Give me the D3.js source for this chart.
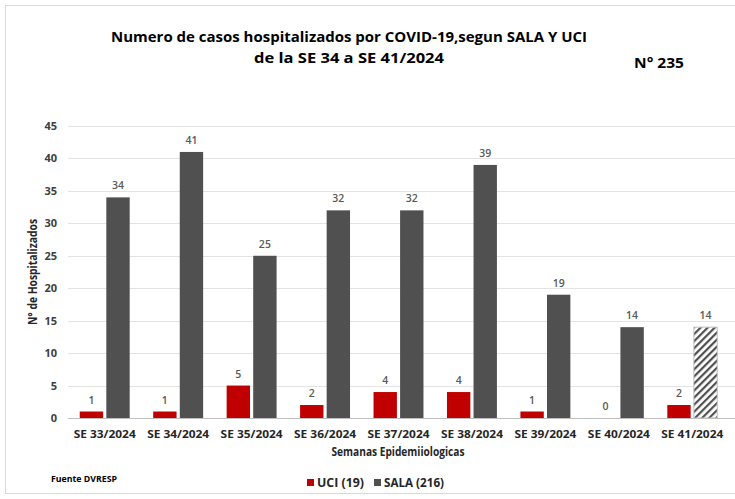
<!DOCTYPE html>
<html>
<head>
<meta charset="utf-8">
<script src="https://cdn.jsdelivr.net/npm/d3@7/dist/d3.min.js"></script>
<style>
  body { margin: 0; background: #fff; }
  text { font-family: "Open Sans", "DejaVu Sans", sans-serif; }
</style>
</head>
<body>
<div class="chart"></div>
<script>
// donnees
var semanas = ["SE 33/2024", "SE 34/2024", "SE 35/2024", "SE 36/2024", "SE 37/2024",
               "SE 38/2024", "SE 39/2024", "SE 40/2024", "SE 41/2024"];
var uci = [1, 1, 5, 2, 4, 4, 1, 0, 2];
var sala = [34, 41, 25, 32, 32, 39, 19, 14, 14];
var series = ["UCI (19)", "SALA (216)"];
var yTicks = [0, 5, 10, 15, 20, 25, 30, 35, 40, 45];

var width = 735, height = 499;
var margin = {top: 126, right: 6, bottom: 81, left: 68};
var w = width - margin.left - margin.right,
    h = height - margin.top - margin.bottom;

var svg = d3.select(".chart").append("svg")
    .attr("width", width)
    .attr("height", height);

// motif hachure pour la derniere semaine
var defs = svg.append("defs");
var pat = defs.append("pattern")
    .attr("id", "hatch")
    .attr("patternUnits", "userSpaceOnUse")
    .attr("width", 5).attr("height", 5)
    .attr("patternTransform", "rotate(45)");
pat.append("rect").attr("width", 5).attr("height", 5).attr("fill", "#fff");
pat.append("rect").attr("width", 2.2).attr("height", 5).attr("fill", "#505050");

// cadre
svg.append("rect")
    .attr("x", 5.5).attr("y", 5.5)
    .attr("width", 740).attr("height", 488)
    .attr("fill", "none")
    .attr("stroke", "#d9d9d9");

var g = svg.append("g")
    .attr("transform", "translate(" + margin.left + "," + margin.top + ")");

var x0 = d3.scaleBand().domain(semanas).range([0, w]).paddingInner(0.32).paddingOuter(0.16);
var x1 = d3.scaleBand().domain([0, 1]).range([0, x0.bandwidth()]).paddingInner(0.12);
var y = d3.scaleLinear().domain([0, 45]).range([h, 0]);

// grille
g.append("g")
    .selectAll("line")
    .data(yTicks)
    .enter().append("line")
    .attr("x1", 0).attr("x2", w + 10)
    .attr("y1", function (d) { return Math.round(y(d)) + 0.5; })
    .attr("y2", function (d) { return Math.round(y(d)) + 0.5; })
    .attr("stroke", function (d) { return d === 0 ? "#bfbfbf" : "#e3e3e3"; })
    .attr("stroke-width", 1);

// axe Y
var yAxis = d3.axisLeft(y).tickValues(yTicks).tickSize(0).tickPadding(11);
g.append("g")
    .call(yAxis)
    .call(function (s) { s.select(".domain").remove(); })
    .selectAll("text")
    .style("font-size", "11px")
    .style("font-weight", "bold")
    .attr("fill", "#404040");

// axe X
var xAxis = d3.axisBottom(x0).tickSize(0).tickPadding(13);
g.append("g")
    .attr("transform", "translate(0," + h + ")")
    .call(xAxis)
    .call(function (s) { s.select(".domain").remove(); })
    .selectAll("text")
    .style("font-size", "10.5px")
    .style("font-weight", "bold")
    .attr("fill", "#262626")
    .attr("textLength", 62)
    .attr("lengthAdjust", "spacingAndGlyphs");

var groups = g.selectAll(".sem")
    .data(semanas)
    .enter().append("g")
    .attr("class", "sem")
    .attr("transform", function (d) { return "translate(" + x0(d) + ",0)"; });

// barres UCI
groups.append("rect")
    .attr("x", x1(0))
    .attr("y", function (d, i) { return y(uci[i]); })
    .attr("width", x1.bandwidth())
    .attr("height", function (d, i) { return h - y(uci[i]); })
    .attr("fill", "#c00000");

// barres SALA
groups.append("rect")
    .attr("x", x1(1))
    .attr("y", function (d, i) { return y(sala[i]); })
    .attr("width", x1.bandwidth())
    .attr("height", function (d, i) { return h - y(sala[i]); })
    .attr("fill", function (d, i) { return i === semanas.length - 1 ? "url(#hatch)" : "#505050"; })
    .attr("stroke", function (d, i) { return i === semanas.length - 1 ? "#bfbfbf" : "none"; });

// etiquettes
groups.append("text")
    .attr("x", x1(0) + x1.bandwidth() / 2)
    .attr("y", function (d, i) { return y(uci[i]) - 8; })
    .attr("text-anchor", "middle")
    .style("font-size", "10.5px")
    .style("font-weight", "600")
    .attr("fill", "#595959")
    .text(function (d, i) { return uci[i]; });

groups.append("text")
    .attr("x", x1(1) + x1.bandwidth() / 2)
    .attr("y", function (d, i) { return y(sala[i]) - 8; })
    .attr("text-anchor", "middle")
    .style("font-size", "10.5px")
    .style("font-weight", "600")
    .attr("fill", "#595959")
    .text(function (d, i) { return sala[i]; });

// titres
svg.append("text")
    .attr("x", 349).attr("y", 42)
    .attr("text-anchor", "middle")
    .style("font-size", "15px").style("font-weight", "bold")
    .attr("fill", "#000")
    .attr("textLength", 476).attr("lengthAdjust", "spacingAndGlyphs")
    .text("Numero de casos hospitalizados por COVID-19,segun SALA Y UCI");
svg.append("text")
    .attr("x", 349).attr("y", 63)
    .attr("text-anchor", "middle")
    .style("font-size", "15px").style("font-weight", "bold")
    .attr("fill", "#000")
    .attr("textLength", 190).attr("lengthAdjust", "spacingAndGlyphs")
    .text("de la SE 34 a SE 41/2024");
svg.append("text")
    .attr("x", 634).attr("y", 68)
    .style("font-size", "15px").style("font-weight", "bold")
    .attr("fill", "#000")
    .attr("textLength", 50).attr("lengthAdjust", "spacingAndGlyphs")
    .text("N° 235");

svg.append("text")
    .attr("transform", "translate(37,272) rotate(-90)")
    .attr("text-anchor", "middle")
    .style("font-size", "11.5px").style("font-weight", "bold")
    .attr("fill", "#262626")
    .attr("textLength", 106).attr("lengthAdjust", "spacingAndGlyphs")
    .text("N° de Hospitalizados");

svg.append("text")
    .attr("x", 398).attr("y", 456)
    .attr("text-anchor", "middle")
    .style("font-size", "11.5px").style("font-weight", "bold")
    .attr("fill", "#262626")
    .attr("textLength", 133).attr("lengthAdjust", "spacingAndGlyphs")
    .text("Semanas Epidemiiologicas");

svg.append("text")
    .attr("x", 51).attr("y", 482)
    .style("font-size", "9px").style("font-weight", "bold")
    .attr("fill", "#000")
    .attr("textLength", 66).attr("lengthAdjust", "spacingAndGlyphs")
    .text("Fuente DVRESP");

// legende
var legX = [307, 374];
var legColors = ["#c00000", "#505050"];
var leg = svg.append("g").selectAll("g")
    .data(series)
    .enter().append("g")
    .attr("transform", function (d, i) { return "translate(" + legX[i] + ",478)"; });
leg.append("rect")
    .attr("width", 7).attr("height", 7)
    .attr("y", 1)
    .attr("fill", function (d, i) { return legColors[i]; });
leg.append("text")
    .attr("x", 10).attr("y", 9)
    .style("font-size", "11.5px").style("font-weight", "bold")
    .attr("fill", "#262626")
    .attr("textLength", function (d, i) { return i === 0 ? 47 : 60; })
    .attr("lengthAdjust", "spacingAndGlyphs")
    .text(function (d) { return d; });
</script>
</body>
</html>
